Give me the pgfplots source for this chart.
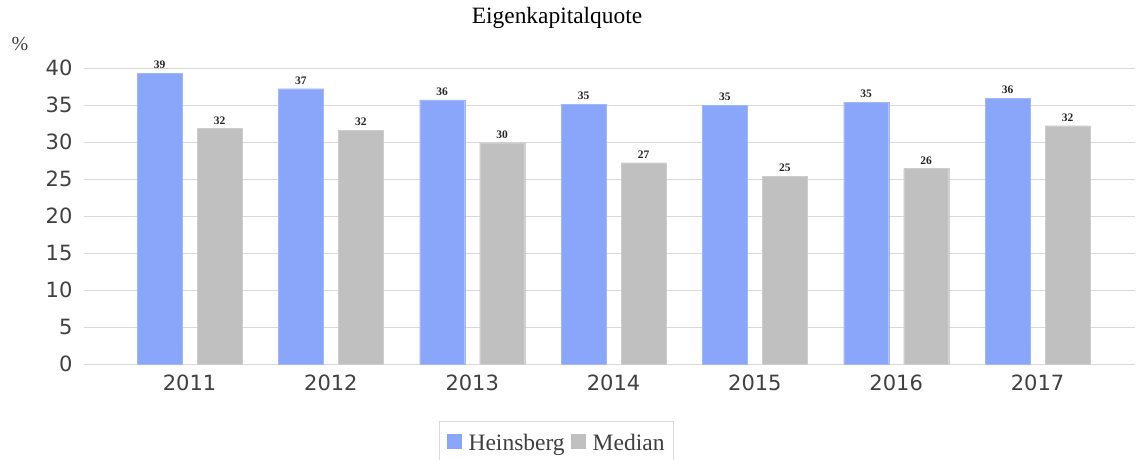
\documentclass[border=0pt]{standalone}
\usepackage{pgfplots}
\pgfplotsset{compat=1.18}
\usepackage{fontspec}
\setmainfont{Liberation Serif}
\newfontfamily\tickfont{DejaVu Sans}
\definecolor{hblue}{HTML}{8AA6FA}
\definecolor{mgray}{HTML}{C0C0C0}
\definecolor{gridc}{HTML}{D9D9D9}
\definecolor{tickc}{HTML}{404040}
\begin{document}
\begin{tikzpicture}[x=1pt,y=1pt]
\useasboundingbox (-84,-95) rectangle (1052,364);
\begin{axis}[
  scale only axis,
  width=1051pt, height=296pt,
  xmin=-0.747, xmax=6.69,
  ymin=0, ymax=40,
  ytick={0,5,...,40},
  xtick={0,...,6},
  xticklabels={2011,2012,2013,2014,2015,2016,2017},
  ymajorgrids, grid style={gridc, line width=1pt},
  axis x line*=bottom,
  axis y line*=left,
  x axis line style={draw=gridc, line width=1pt, -},
  y axis line style={draw=none},
  tick style={draw=none},
  /pgf/number format/assume math mode=true,
  ticklabel style={font=\tickfont\fontsize{21}{24}\selectfont, text=tickc},
  yticklabel style={xshift=-8pt},
  xticklabel style={yshift=-3pt},
  ybar=15pt,
  bar width=45pt,
  clip=false,
  nodes near coords,
  nodes near coords style={font=\bfseries\fontsize{11.5}{12}\selectfont, text=black!85, /pgf/number format/precision=0, /pgf/number format/fixed, /pgf/number format/assume math mode=true, yshift=1pt},
  legend style={at={(axis description cs:0.4496,-0.1926)}, anchor=north, draw=gridc, line width=1pt,
    font=\fontsize{23.5}{27}\selectfont, text=tickc, legend columns=2,
    /tikz/every odd column/.append style={column sep=5pt},
    /tikz/every even column/.append style={column sep=4pt}, inner xsep=7pt, inner ysep=11pt},
  legend image code/.code={\fill[#1, draw=none] (0pt,-6pt) rectangle (15pt,9pt);},
]
\addplot[fill=hblue, draw=hblue!80!white] coordinates {(0,39.3) (1,37.2) (2,35.7) (3,35.1) (4,35.0) (5,35.4) (6,35.9)};
\addplot[fill=mgray, draw=mgray!80!white] coordinates {(0,31.8) (1,31.6) (2,29.9) (3,27.2) (4,25.4) (5,26.4) (6,32.2)};
\legend{Heinsberg, Median}
\end{axis}
\node[font=\fontsize{23.4}{27}\selectfont, text=black] at (473,346) {Eigenkapitalquote};
\node[font=\fontsize{20}{24}\selectfont, text=tickc] at (-64,320) {\%};
\end{tikzpicture}
\end{document}
